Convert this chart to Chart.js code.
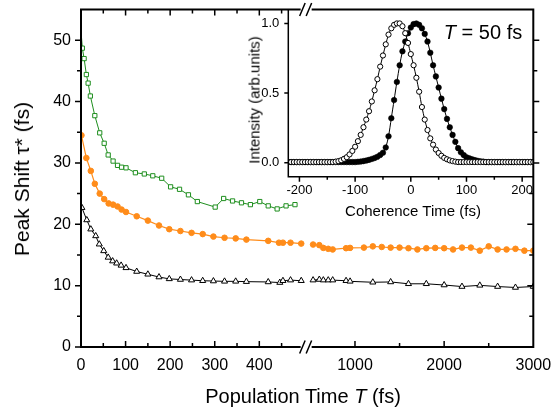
<!DOCTYPE html>
<html>
<head>
<meta charset="utf-8">
<script src="https://cdn.jsdelivr.net/npm/chart.js@4.4.0/dist/chart.umd.min.js"></script>
<style>
body { margin: 0; background: #fff; }
#wrap { position: relative; width: 554px; height: 416px; font-family: 'Liberation Sans', Arial, sans-serif; }
canvas { position: absolute; left: 0; top: 0; }
.lbl { position: absolute; white-space: nowrap; color: #000; transform: translate(-50%, -50%); }
.rot { transform: translate(-50%, -50%) rotate(-90deg); }
</style>
</head>
<body>
<div id="wrap">
  <canvas id="main" width="554" height="416"></canvas>
  <canvas id="inset" width="554" height="416"></canvas>
  <div class="lbl rot" style="left:22px;top:179px;font-size:21px">Peak Shift τ* (fs)</div>
  <div class="lbl" style="left:303px;top:396px;font-size:20px">Population Time <i>T</i> (fs)</div>
  <div class="lbl" style="left:413px;top:210px;font-size:15px">Coherence Time (fs)</div>
  <div class="lbl rot" style="left:254px;top:100px;font-size:15px">Intensity (arb.units)</div>
  <div class="lbl" style="left:483px;top:32px;font-size:20px"><i>T</i> = 50 fs</div>
</div>
<script>
// main plot: peak shift vs population time (fs), x axis broken at 500 fs
const greenT = [0, 3, 7, 12, 16, 21, 31, 42, 52, 61, 72, 82, 91, 101, 122, 142, 161, 181, 201, 221, 241, 261, 301, 320, 340, 360, 380, 401, 420, 440, 460, 480];
const greenY = [51.5, 48.7, 47.0, 44.4, 43.0, 40.9, 37.7, 34.9, 33.2, 31.3, 30.3, 29.6, 29.3, 29.2, 28.4, 28.2, 27.9, 27.5, 26.1, 25.7, 24.8, 23.7, 22.8, 24.2, 23.8, 23.5, 23.2, 23.7, 23.0, 22.5, 23.0, 23.2];

const orangeT = [1, 12, 22, 31, 42, 52, 62, 72, 82, 91, 101, 125, 150, 175, 198, 223, 248, 273, 297, 322, 347, 371, 420, 444, 453, 470, 494,
  530, 600, 645, 700, 750, 900, 945, 1100, 1200, 1300, 1400, 1500, 1600, 1700, 1800, 1900, 2000, 2100, 2200, 2300, 2400, 2500, 2600, 2700, 2800, 2900, 3000];
const orangeY = [34.5, 30.8, 28.7, 26.6, 25.0, 24.1, 23.4, 23.2, 22.9, 22.4, 22.0, 21.3, 20.6, 19.8, 19.2, 18.9, 18.6, 18.4, 18.0, 17.8, 17.7, 17.5, 17.3, 17.0, 17.0, 17.0, 16.85,
  16.7, 16.6, 16.15, 16.0, 15.9, 16.1, 16.15, 16.2, 16.4, 16.3, 16.2, 16.2, 16.1, 15.9, 16.1, 16.15, 16.1, 15.9, 16.2, 16.2, 15.7, 16.4, 15.9, 15.9, 16.0, 15.7, 15.7];

const blackT = [2, 13, 22, 33, 41, 51, 61, 71, 80, 90, 101, 125, 150, 175, 198, 223, 248, 273, 297, 322, 347, 371, 420, 446, 453, 470, 494,
  530, 600, 645, 700, 750, 900, 945, 1200, 1400, 1600, 1800, 2000, 2200, 2400, 2600, 2800, 3000];
const blackY = [22.7, 20.7, 19.2, 18.1, 16.75, 15.66, 14.6, 14.0, 13.65, 13.3, 12.9, 12.3, 11.85, 11.4, 11.1, 11.0, 10.9, 10.8, 10.75, 10.7, 10.7, 10.65, 10.6, 10.5, 10.8, 10.9, 10.8,
  10.9, 11.0, 10.9, 10.9, 10.9, 10.8, 10.7, 10.55, 10.6, 10.3, 10.3, 10.1, 9.85, 10.05, 9.85, 9.7, 9.85];

const xTickFs = [0, 100, 200, 300, 400, 1000, 2000, 3000];
const xTickLabels = ['0', '100', '200', '300', '400', '1000', '2000', '3000'];
const yTicks = [0, 10, 20, 30, 40, 50];

// inset: intensity vs coherence time (fs), T = 50 fs
const tau = [-220, -215, -210, -205, -200, -195, -190, -185, -180, -175, -170, -165, -160, -155, -150, -145, -140, -135, -130, -125,
  -120, -115, -110, -105, -100, -95, -90, -85, -80, -75, -70, -65, -60, -55, -50, -45, -40, -35, -30, -25,
  -20, -15, -10, -5, 0, 5, 10, 15, 20, 25, 30, 35, 40, 45, 50, 55, 60, 65, 70, 75,
  80, 85, 90, 95, 100, 105, 110, 115, 120, 125, 130, 135, 140, 145, 150, 155, 160, 165, 170, 175,
  180, 185, 190, 195, 200, 205, 210, 215, 220];
const openI = [.005, .005, .005, .005, .005, .005, .005, .005, .005, .005, .005, .005, .005, .005, .005, .005, .005,
  .008, .012, .018, .028, .04, .06, .085, .115, .155, .2,
  .255, .31, .37, .44, .52, .6, .69, .77, .85, .92,
  .965, .99, 1, 1, .98, .93, .86, .78, .70, .61,
  .51, .40, .31, .235, .175, .13, .095, .07, .05, .035,
  .025, .017, .012, .008,
  .005, .005, .005, .005, .005, .005, .005, .005, .005, .005, .005, .005, .005, .005,
  .005, .005, .005, .005, .005, .005, .005, .005, .005, .005, .005, .005, .005, .005];
const filledI = [.005, .005, .005, .005, .005, .005, .005, .005, .005, .005, .005, .005, .005, .005, .005, .005, .005, .005, .005, .005, .005, .005, .005, .005, .005,
  .007, .009, .012, .016, .021, .027, .034, .043, .056, .072,
  .11, .19, .32, .45, .58, .70, .80, .87, .93, .97,
  .995, 1, .99, .965, .925, .87, .79, .70, .62, .54,
  .46, .385, .315, .255, .20, .15, .105, .075, .055, .04,
  .032, .025, .019, .014, .01, .008,
  .005, .005, .005, .005, .005, .005, .005, .005, .005, .005, .005, .005, .005, .005, .005, .005, .005, .005];
const insetXTicks = [-200, -100, 0, 100, 200];
const insetYTicks = [0, 0.5, 1];

const GREEN = '#1f8f1f';
const ORANGE = '#ff8c1a';

Chart.defaults.font.family = "'Liberation Sans', Arial, sans-serif";
Chart.defaults.color = '#000';

// 0-500 fs linear, then 500-3000 compressed 5x after a small gap
const brk = t => t <= 500 ? t : 514.6 + (t - 500) / 5;

function series(ts, ys) {
  const out = [];
  ts.forEach((t, i) => {
    if (i > 0 && ts[i - 1] < 500 && t > 500) out.push({ x: brk(505), y: null });
    out.push({ x: brk(t), y: ys[i] });
  });
  return out;
}

function drawBreak(ctx, xc, y) {
  ctx.save();
  ctx.lineWidth = 1.5;
  ctx.strokeStyle = '#000';
  ctx.beginPath();
  ctx.moveTo(xc - 6, y + 6.5); ctx.lineTo(xc - 0.5, y - 6.5);
  ctx.moveTo(xc + 0.5, y + 6.5); ctx.lineTo(xc + 6, y - 6.5);
  ctx.stroke();
  ctx.restore();
}

// frame of the main plot, drawn on the top canvas so it sits above the inset box
function drawMainFrame(chart, ctx, insetBottom) {
  const a = chart.chartArea;
  const x = chart.scales.x, y = chart.scales.y;
  const xc = x.getPixelForValue(507.3) - 1.5;
  ctx.save();
  ctx.strokeStyle = '#000';
  ctx.lineWidth = 2;
  ctx.beginPath();
  ctx.moveTo(a.left, a.top - 1); ctx.lineTo(a.left, a.bottom + 1);
  ctx.moveTo(a.right, a.top - 1); ctx.lineTo(a.right, a.bottom + 1);
  [a.top, a.bottom].forEach(yy => {
    ctx.moveTo(a.left, yy); ctx.lineTo(xc - 5, yy);
    ctx.moveTo(xc + 6, yy); ctx.lineTo(a.right, yy);
  });
  ctx.stroke();

  ctx.lineWidth = 1.5;
  ctx.beginPath();
  for (let v = 0; v <= 50; v += 5) {
    const py = y.getPixelForValue(v), len = v % 10 ? 4 : 6;
    ctx.moveTo(a.left, py); ctx.lineTo(a.left - len, py);
    if (v > 0) {
      // right spine: outward beside the inset, inward below it
      ctx.moveTo(a.right, py);
      ctx.lineTo(py < insetBottom ? a.right + len : a.right - len, py);
    }
  }
  for (let t = 50; t <= 450; t += 50) {
    const px = x.getPixelForValue(brk(t)), len = t % 100 ? 4 : 6;
    ctx.moveTo(px, a.bottom); ctx.lineTo(px, a.bottom - len);
    ctx.moveTo(px, a.top); ctx.lineTo(px, a.top + len);
  }
  [1000, 1500, 2000, 2500].forEach(t => {
    const px = x.getPixelForValue(brk(t)), len = t % 1000 ? 4 : 6;
    ctx.moveTo(px, a.bottom); ctx.lineTo(px, a.bottom - len);
  });
  ctx.stroke();
  ctx.restore();
  drawBreak(ctx, xc, a.top);
  drawBreak(ctx, xc, a.bottom);
}

const mainChart = new Chart(document.getElementById('main'), {
  type: 'line',
  data: {
    datasets: [
      {
        data: series(greenT, greenY),
        borderColor: GREEN, borderWidth: 1,
        pointStyle: 'rect', pointRadius: c => c.dataIndex === 0 ? 0 : 3,
        pointBackgroundColor: '#fff', pointBorderColor: GREEN, pointBorderWidth: 1
      },
      {
        data: series(orangeT, orangeY),
        borderColor: ORANGE, borderWidth: 1.2,
        pointStyle: 'circle', pointRadius: 2.8,
        pointBackgroundColor: ORANGE, pointBorderColor: ORANGE, pointBorderWidth: 1
      },
      {
        data: series(blackT, blackY),
        borderColor: '#000', borderWidth: 1,
        pointStyle: 'triangle', pointRadius: 3.5,
        pointBackgroundColor: '#fff', pointBorderColor: '#000', pointBorderWidth: 1
      }
    ]
  },
  options: {
    responsive: false,
    animation: false,
    events: [],
    layout: { padding: { top: 9.5, right: 20.7, left: 0, bottom: 0 } },
    scales: {
      x: {
        type: 'linear', min: 0, max: brk(3000),
        grid: { display: false, drawTicks: false },
        border: { display: false },
        afterBuildTicks: s => { s.ticks = xTickFs.map(t => ({ value: brk(t) })); },
        afterFit: s => { s.height = 69; s.paddingLeft = 0; s.paddingRight = 0; },
        ticks: {
          autoSkip: false, maxRotation: 0, padding: 9,
          font: { size: 16 },
          callback: (v, i) => xTickLabels[i]
        }
      },
      y: {
        min: 0, max: 55,
        grid: { display: false, drawTicks: false },
        border: { display: false },
        afterBuildTicks: s => { s.ticks = yTicks.map(v => ({ value: v })); },
        afterFit: s => { s.width = 81; s.paddingTop = 0; s.paddingBottom = 0; },
        ticks: { padding: 10, font: { size: 16 } }
      }
    },
    plugins: { legend: { display: false }, tooltip: { enabled: false } }
  }
});

const insetFrame = {
  id: 'insetFrame',
  beforeDraw(chart) {
    const { ctx, chartArea: a } = chart;
    ctx.save();
    ctx.fillStyle = '#fff';
    ctx.fillRect(a.left, a.top, a.width, a.height);
    ctx.restore();
  },
  afterDraw(chart) {
    const { ctx, chartArea: a, scales: { x, y } } = chart;
    ctx.save();
    ctx.strokeStyle = '#000';
    ctx.lineWidth = 1.5;
    ctx.beginPath();
    ctx.moveTo(a.left, a.top); ctx.lineTo(a.left, a.bottom);
    ctx.lineTo(a.right, a.bottom);
    insetYTicks.forEach(v => {
      const py = y.getPixelForValue(v);
      ctx.moveTo(a.left, py); ctx.lineTo(a.left - 4, py);
    });
    for (let t = -200; t <= 200; t += 50) {
      const px = x.getPixelForValue(t), len = t % 100 ? 3 : 5;
      ctx.moveTo(px, a.bottom); ctx.lineTo(px, a.bottom + len);
    }
    ctx.stroke();
    ctx.restore();
    drawMainFrame(mainChart, ctx, a.bottom);
  }
};

new Chart(document.getElementById('inset'), {
  type: 'line',
  data: {
    datasets: [
      {
        data: tau.map((t, i) => ({ x: t, y: openI[i] })),
        borderColor: '#000', borderWidth: 1, tension: 0.3,
        pointRadius: 2.6, pointBackgroundColor: '#fff', pointBorderColor: '#000', pointBorderWidth: 1
      },
      {
        data: tau.map((t, i) => ({ x: t, y: filledI[i] })),
        borderColor: '#000', borderWidth: 1, tension: 0.3,
        pointRadius: 2.8, pointBackgroundColor: '#000', pointBorderColor: '#000', pointBorderWidth: 0.5
      }
    ]
  },
  options: {
    responsive: false,
    animation: false,
    events: [],
    layout: { padding: { top: 9.5, right: 20.7, left: 200, bottom: 209.3 } },
    scales: {
      x: {
        type: 'linear', min: -220, max: 220,
        grid: { display: false, drawTicks: false },
        border: { display: false },
        afterBuildTicks: s => { s.ticks = insetXTicks.map(v => ({ value: v })); },
        afterFit: s => { s.height = 30; s.paddingLeft = 0; s.paddingRight = 0; },
        ticks: { autoSkip: false, maxRotation: 0, padding: 6, font: { size: 13 } }
      },
      y: {
        min: -0.1, max: 1.1,
        grid: { display: false, drawTicks: false },
        border: { display: false },
        afterBuildTicks: s => { s.ticks = insetYTicks.map(v => ({ value: v })); },
        afterFit: s => { s.width = 88.3; s.paddingTop = 0; s.paddingBottom = 0; },
        ticks: { padding: 9, font: { size: 13 }, callback: v => v.toFixed(1) }
      }
    },
    plugins: { legend: { display: false }, tooltip: { enabled: false } }
  },
  plugins: [insetFrame]
});
</script>
</body>
</html>
